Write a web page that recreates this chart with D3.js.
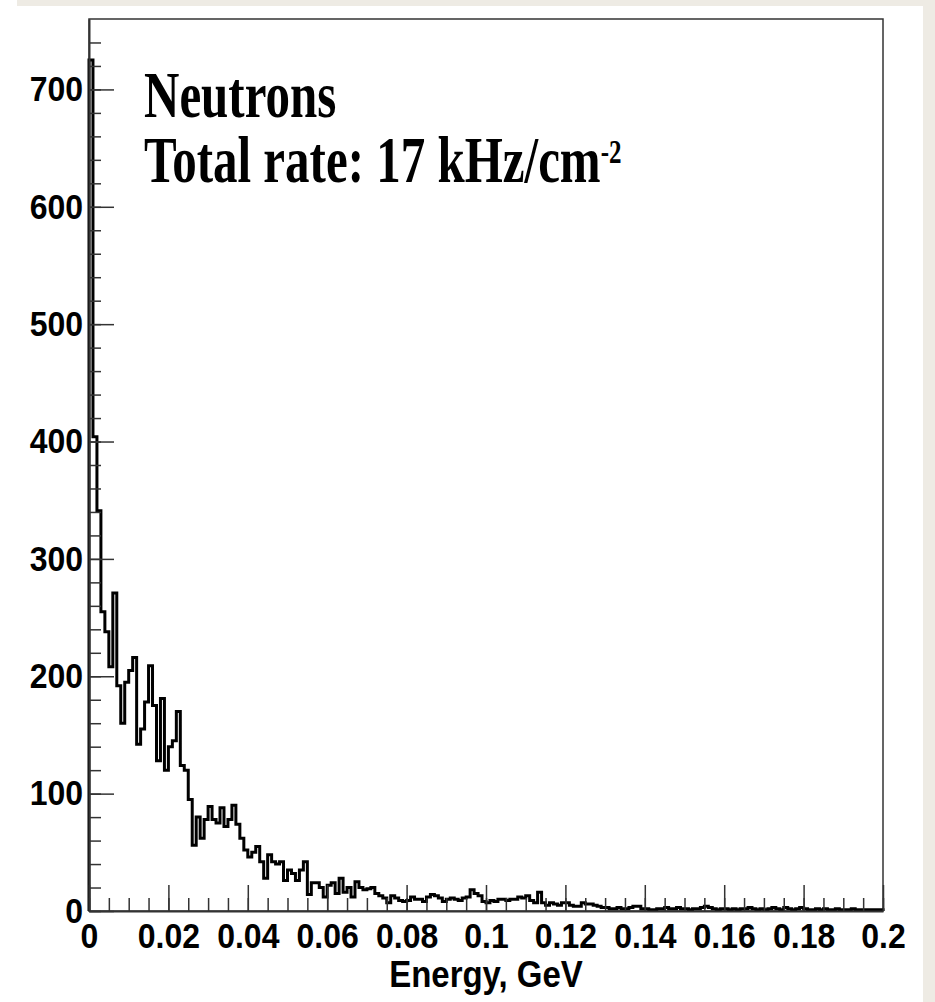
<!DOCTYPE html>
<html>
<head>
    <meta http-equiv="Content-Type" content="text/html;charset=utf-8">
    <script src="https://d3js.org/d3.v7.min.js"></script>
    <style>
        html, body {
            margin: 0;
            padding: 0;
            background: #fff;
        }

        svg {
            display: block;
        }

        .axis path,
        .axis line {
            stroke: #333;
            stroke-width: 1.5px;
        }

        .axis .domain {
            stroke-width: 2px;
        }

        .axis text {
            font-family: "Liberation Sans", Arial, sans-serif;
            font-weight: bold;
            font-size: 32px;
            fill: #000;
        }

        .title {
            font-family: "Liberation Serif", "Times New Roman", serif;
            font-weight: bold;
            font-size: 49px;
            fill: #000;
        }

        .xtitle {
            font-family: "Liberation Sans", Arial, sans-serif;
            font-weight: bold;
            font-size: 33px;
            fill: #000;
        }

        .hist {
            fill: none;
            stroke: #000;
            stroke-width: 3px;
        }
    </style>
</head>
<body>
<div id="chart"></div>
<script>
    // histogram: 200 bins between 0 and 0.2 GeV
    var energyMin = 0,
        energyMax = 0.2,
        nBins = 200;

    // counts per bin
    var counts = [
        725, 404, 341, 255, 238, 208, 271, 192, 160, 195,
        205, 216, 142, 155, 178, 209, 175, 128, 181, 120,
        140, 145, 170, 124, 120, 95, 56, 80, 62, 78,
        89, 78, 75, 88, 72, 78, 90, 74, 62, 52,
        46, 50, 55, 42, 28, 48, 42, 40, 42, 26,
        35, 32, 26, 35, 42, 14, 24, 24, 20, 12,
        22, 24, 15, 28, 16, 20, 12, 25, 20, 18,
        19, 20, 15, 13, 11, 7, 13, 11, 9, 8,
        9, 12, 10, 10, 8, 12, 14, 13, 11, 8,
        10, 11, 10, 9, 11, 12, 18, 15, 13, 8,
        7, 9, 8, 10, 10, 9, 10, 10, 12, 11,
        13, 9, 7, 16, 7, 5, 7, 6, 5, 7,
        7, 5, 4, 4, 7, 6, 6, 5, 4, 3,
        3, 2, 2, 3, 2, 2, 3, 4, 4, 2,
        2, 1, 1, 2, 2, 3, 2, 2, 3, 2,
        2, 1, 2, 2, 3, 4, 3, 2, 1, 2,
        2, 1, 2, 1, 2, 2, 3, 2, 1, 2,
        1, 2, 3, 2, 1, 3, 2, 1, 2, 3,
        2, 1, 1, 2, 1, 2, 1, 1, 2, 1,
        1, 1, 2, 1, 1, 1, 1, 1, 1, 1
    ];

    var xTicks = [0, 0.02, 0.04, 0.06, 0.08, 0.1, 0.12, 0.14, 0.16, 0.18, 0.2];
    var xTickLabels = ["0", "0.02", "0.04", "0.06", "0.08", "0.1", "0.12", "0.14", "0.16", "0.18", "0.2"];
    var yMax = 760;
    var yTicks = [0, 100, 200, 300, 400, 500, 600, 700];
    var yTickLabels = ["0", "100", "200", "300", "400", "500", "600", "700"];

    var xTitle = "Energy, GeV";
    var titleLine1 = "Neutrons";
    var titleLine2 = "Total rate: 17 kHz/cm";
    var titleSup = "-2";

    var width = 935,
        height = 1002;

    var svg = d3.select("#chart").append("svg")
        .attr("width", width)
        .attr("height", height);

    // slide background, white panel on top
    svg.append("rect")
        .attr("width", width)
        .attr("height", height)
        .attr("fill", "#eeebe4");
    svg.append("rect")
        .attr("x", 0)
        .attr("y", 6)
        .attr("width", 923)
        .attr("height", height - 6)
        .attr("fill", "#fff");
    svg.append("rect")
        .attr("width", 17)
        .attr("height", 6)
        .attr("fill", "#fff");

    var x = d3.scaleLinear().domain([energyMin, energyMax]).range([89, 883]);
    var y = d3.scaleLinear().domain([0, yMax]).range([911, 19]);

    // frame
    svg.append("rect")
        .attr("x", x(energyMin))
        .attr("y", y(yMax))
        .attr("width", x(energyMax) - x(energyMin))
        .attr("height", y(0) - y(yMax))
        .attr("fill", "none")
        .attr("stroke", "#333")
        .attr("stroke-width", 1.5);

    // step outline
    var binWidth = (energyMax - energyMin) / nBins;
    var pts = [[energyMin, 0]];
    counts.forEach(function (c, i) {
        pts.push([energyMin + i * binWidth, c]);
    });
    pts.push([energyMax, counts[counts.length - 1]]);
    pts.push([energyMax, 0]);

    var line = d3.line()
        .x(function (d) {
            return x(d[0]);
        })
        .y(function (d) {
            return y(d[1]);
        })
        .curve(d3.curveStepAfter);

    svg.append("path")
        .attr("class", "hist")
        .attr("d", line(pts));

    // minor ticks
    svg.append("g")
        .attr("class", "axis")
        .attr("transform", "translate(0," + y(0) + ")")
        .call(d3.axisBottom(x)
            .tickValues(d3.range(0, energyMax + 1e-9, 0.005))
            .tickSize(-13)
            .tickFormat(""))
        .select(".domain").remove();

    svg.append("g")
        .attr("class", "axis")
        .attr("transform", "translate(" + x(0) + ",0)")
        .call(d3.axisLeft(y)
            .tickValues(d3.range(0, yMax, 20))
            .tickSize(-12)
            .tickFormat(""))
        .select(".domain").remove();

    // major ticks + labels
    var xAxis = svg.append("g")
        .attr("class", "axis")
        .attr("transform", "translate(0," + y(0) + ")")
        .call(d3.axisBottom(x)
            .tickValues(xTicks)
            .tickSize(-26)
            .tickSizeOuter(0)
            .tickPadding(11)
            .tickFormat(function (d, i) {
                return xTickLabels[i];
            }));
    xAxis.selectAll("text").attr("transform", "scale(1,1.1)");

    var yAxis = svg.append("g")
        .attr("class", "axis")
        .attr("transform", "translate(" + x(0) + ",0)")
        .call(d3.axisLeft(y)
            .tickValues(yTicks)
            .tickSize(-25)
            .tickSizeOuter(0)
            .tickPadding(6)
            .tickFormat(function (d, i) {
                return yTickLabels[i];
            }));
    yAxis.selectAll("text").attr("transform", "scale(1,1.1)");

    // axis title
    svg.append("text")
        .attr("class", "xtitle")
        .attr("text-anchor", "middle")
        .attr("transform", "translate(" + ((x(energyMin) + x(energyMax)) / 2) + ",987) scale(1,1.1)")
        .text(xTitle);

    // caption
    svg.append("text")
        .attr("class", "title")
        .attr("transform", "translate(144,117) scale(1,1.33)")
        .text(titleLine1);

    var t2 = svg.append("text")
        .attr("class", "title")
        .attr("transform", "translate(144,182) scale(1,1.33)");
    t2.append("tspan").text(titleLine2);
    t2.append("tspan")
        .attr("dy", -14)
        .style("font-size", "25px")
        .text(titleSup);
</script>
</body>
</html>
